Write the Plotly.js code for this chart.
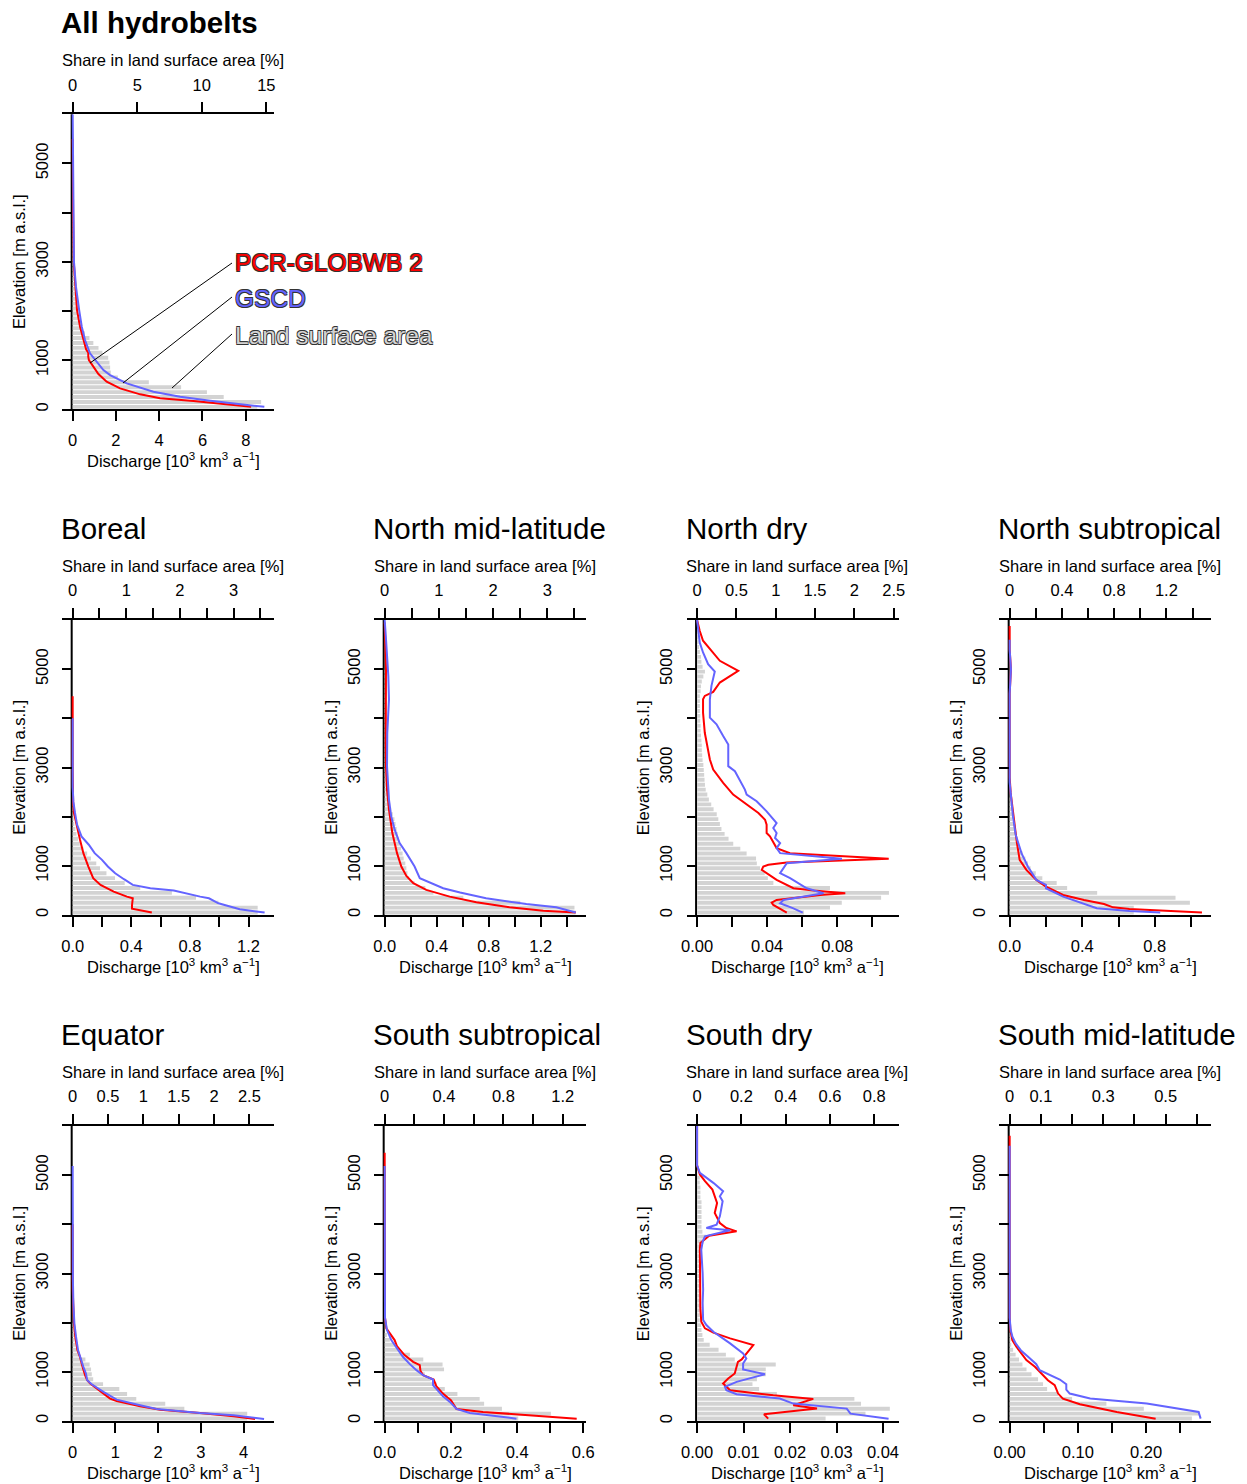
<!DOCTYPE html>
<html><head><meta charset="utf-8">
<script src="https://cdn.plot.ly/plotly-3.0.1.min.js"></script>
<style>html,body{margin:0;padding:0;background:#fff}#chart{width:1247px;height:1484px}</style>
</head><body><div id="chart"></div>
<script>
// ================= DATA =================
const panelTitles = ['All hydrobelts','Boreal','North mid-latitude','North dry','North subtropical','Equator','South subtropical','South dry','South mid-latitude'];
const seriesNames = ['PCR-GLOBWB 2','GSCD','Land surface area'];

// elevation band centres [m a.s.l.] (100 m bands)
const bandMid = [50,150,250,350,450,550,650,750,850,950,1050,1150,1250,1350,1450,1550,1650,1750,1850,1950,2050,2150,2250,2350,2450,2550,2650,2750,2850,2950,3050,3150,3250,3350,3450,3550,3650,3750,3850,3950,4050,4150,4250,4350,4450,4550,4650,4750,4850,4950,5050,5150,5250,5350,5450,5550,5650,5750,5850,5950];

// share in land surface area [%] per band
const allArea = [14.3,14.6,11.7,10.4,8.4,5.9,3.5,2.95,2.9,2.85,2.75,2.3,2.0,1.6,1.3,0.95,0.7,0.55,0.45,0.38,0.33,0.3,0.27,0.25,0.22,0.2,0.18,0.16,0.15,0.14,0.13,0.12,0.11,0.1,0.09,0.08,0.08,0.07,0.07,0.06,0.06,0.05,0.05,0.05,0.04,0.04,0.03,0.03,0.02,0.02];
const borealArea = [3.45,3.45,2.72,2.3,1.85,1.26,0.97,0.79,0.63,0.51,0.44,0.34,0.27,0.2,0.13,0.1,0.07,0.05,0.03,0.02,0.015,0.01,0.01,0.01,0.005];
const nmlArea = [3.52,3.5,2.5,1.45,0.9,0.75,0.55,0.45,0.42,0.4,0.38,0.35,0.33,0.3,0.28,0.26,0.24,0.22,0.2,0.18,0.15,0.12,0.1,0.08,0.07,0.06,0.05,0.05,0.04,0.04,0.04,0.03,0.03,0.03,0.03,0.02,0.02,0.02,0.02,0.02,0.02,0.02,0.02,0.02,0.02,0.01,0.01,0.01,0.01,0.01];
const ndArea = [1.36,1.69,1.84,2.34,2.44,1.69,0.97,0.9,0.86,0.8,0.76,0.75,0.63,0.55,0.46,0.4,0.35,0.31,0.29,0.27,0.25,0.21,0.18,0.15,0.13,0.11,0.1,0.095,0.09,0.085,0.08,0.07,0.065,0.06,0.06,0.055,0.05,0.045,0.045,0.04,0.04,0.035,0.035,0.035,0.035,0.045,0.05,0.06,0.08,0.1,0.07,0.055,0.05,0.035,0.025,0.02,0.015,0.01,0.01,0.005];
const nstArea = [0.95,0.95,1.38,1.27,0.67,0.44,0.36,0.25,0.2,0.16,0.14,0.12,0.1,0.08,0.07,0.06,0.05,0.04,0.03,0.02,0.02,0.015,0.01,0.01];
const eqArea = [2.47,2.47,1.58,1.31,0.9,0.77,0.66,0.43,0.29,0.27,0.26,0.24,0.18,0.1,0.06,0.04,0.03,0.02,0.015,0.01];
const sstArea = [0.9,1.12,0.79,0.67,0.64,0.49,0.405,0.35,0.31,0.27,0.4,0.39,0.26,0.17,0.1,0.07,0.035,0.015];
const sdArea = [0.58,0.76,0.87,0.74,0.71,0.36,0.28,0.25,0.27,0.31,0.31,0.355,0.17,0.13,0.097,0.057,0.03,0.024,0.02,0.018,0.012,0.012,0.012,0.012,0.012,0.012,0.012,0.012,0.012,0.012,0.012,0.012,0.012,0.012,0.012,0.02,0.03,0.04,0.024,0.02,0.02,0.02,0.02,0.02,0.02,0.015,0.015,0.015,0.012,0.012];
const smlArea = [0.584,0.61,0.43,0.31,0.2,0.155,0.12,0.107,0.091,0.07,0.054,0.041,0.03,0.019,0.011,0.005,0.003,0.002];

// discharge [10^3 km^3 a^-1] vs elevation
const allPcrElev = [50,122,169,223,304,426,562,717,866,968,1000,1070,1150,1220,1408,1680,2018,2500,3000,4000,5000,5500];
const allPcrQ    = [8.25,6.67,5.58,4.04,3.12,2.19,1.57,1.19,0.95,0.80,0.75,0.72,0.72,0.62,0.52,0.34,0.2,0.11,0.05,0.02,0.01,0];
const allGscdElev = [50,101,175,256,358,528,697,799,968,1138,1408,1680,2018,2500,3000,4000,5000,6000];
const allGscdQ    = [8.86,7.75,6.36,4.97,3.73,2.5,1.73,1.42,1.11,0.8,0.57,0.42,0.3,0.15,0.06,0.03,0.02,0];

const borealPcrElev = [50,130,200,340,374,476,612,748,986,1258,1530,1803,2075,2300,2600,3000,4450];
const borealPcrQ    = [0.54,0.405,0.405,0.41,0.37,0.28,0.19,0.14,0.107,0.073,0.05,0.027,0.009,0.003,0.001,0,0];
const borealGscdElev = [50,116,238,340,374,497,544,612,728,850,986,1122,1258,1429,1599,1837,2075,2300,2600,4000];
const borealGscdQ    = [1.31,1.14,0.995,0.93,0.87,0.69,0.53,0.41,0.35,0.29,0.24,0.2,0.15,0.11,0.06,0.03,0.016,0.005,0,0];

const nmlPcrElev = [50,88,156,258,374,510,646,796,986,1258,1667,2143,2551,3027,3500,4388,5000,5500,5950];
const nmlPcrQ    = [1.47,1.22,0.96,0.705,0.5,0.32,0.22,0.167,0.128,0.095,0.059,0.033,0.018,0.01,0.008,0.01,0.01,0.005,0];
const nmlGscdElev = [50,156,224,340,456,544,748,884,986,1258,1463,1735,2007,2347,2700,3027,3700,4000,4388,4864,5408,5700,6000];
const nmlGscdQ    = [1.47,1.32,1.09,0.78,0.58,0.45,0.27,0.244,0.23,0.167,0.115,0.077,0.05,0.033,0.023,0.018,0.02,0.026,0.033,0.028,0.018,0.008,0];

const ndPcrElev = [50,204,252,306,408,442,497,544,714,850,918,986,1020,1068,1143,1258,1361,1599,1667,1837,1939,2075,2245,2449,2687,2959,3163,3435,3707,4116,4388,4456,4537,4728,4966,5170,5408,5578,5782,6000];
const ndPcrQ    = [0.0512,0.0435,0.0426,0.0454,0.0703,0.0846,0.0665,0.055,0.0454,0.0397,0.0369,0.0378,0.0407,0.0512,0.1094,0.053,0.0454,0.0416,0.0397,0.0397,0.0388,0.035,0.0283,0.0206,0.0149,0.0092,0.0073,0.0057,0.0044,0.0034,0.0034,0.0044,0.0092,0.013,0.0235,0.013,0.0073,0.0034,0.0015,0];
const ndGscdElev = [50,136,238,306,442,544,748,850,1054,1143,1258,1361,1463,1565,1667,1769,1871,2109,2313,2449,2550,2789,2925,3027,3469,3639,3776,3878,4014,4388,4660,4952,5102,5340,5544,6000];
const ndGscdQ    = [0.0603,0.055,0.0474,0.0493,0.0722,0.0626,0.0531,0.0474,0.0512,0.0827,0.0474,0.0454,0.0474,0.0445,0.0454,0.0435,0.0454,0.0397,0.034,0.0283,0.0273,0.0235,0.0216,0.0178,0.0178,0.0149,0.013,0.0111,0.0073,0.0073,0.0082,0.0101,0.0063,0.0034,0.0015,0];

const nstPcrElev = [50,88,122,156,224,306,408,578,714,918,1122,1463,1803,2143,2483,2800,4500,5000,5400,5880];
const nstPcrQ    = [1.06,0.85,0.66,0.57,0.52,0.41,0.295,0.2,0.147,0.092,0.055,0.04,0.028,0.015,0.0055,0,0,0.007,0,0];
const nstGscdElev = [50,82,136,238,374,544,612,714,986,1258,1633,2007,2347,2700,4500,5000,5400,5600];
const nstGscdQ    = [0.83,0.66,0.48,0.405,0.295,0.2,0.2,0.147,0.1,0.065,0.033,0.018,0.009,0,0,0.007,0,0];

const eqPcrElev = [40,95,163,231,299,408,456,558,762,830,932,1102,1306,1442,1714,1986,2300,2700,4000];
const eqPcrQ    = [4.27,3.77,2.98,2.05,1.58,1.03,0.875,0.72,0.41,0.34,0.29,0.23,0.17,0.11,0.06,0.03,0.016,0,0];
const eqGscdElev = [40,116,163,245,320,435,592,748,830,966,1102,1306,1442,1714,1986,2395,2900,5184];
const eqGscdQ    = [4.48,3.77,2.98,1.97,1.58,1.03,0.72,0.445,0.34,0.31,0.25,0.17,0.125,0.078,0.04,0.016,0.005,0];

const sstPcrElev = [48,95,136,184,245,422,476,558,707,844,932,1020,1136,1204,1340,1524,1646,1782,1884,2100,5456];
const sstPcrQ    = [0.58,0.48,0.378,0.297,0.217,0.2,0.19,0.176,0.156,0.148,0.116,0.108,0.106,0.086,0.06,0.037,0.03,0.015,0.005,0.001,0];
const sstGscdElev = [48,109,163,245,388,503,728,844,932,1034,1156,1306,1510,1646,1850,2100,5184];
const sstGscdQ    = [0.398,0.318,0.257,0.217,0.197,0.176,0.146,0.146,0.116,0.096,0.076,0.055,0.033,0.02,0.007,0.001,0];

const sdPcrElev = [48,136,252,320,449,524,626,762,864,966,1102,1204,1252,1374,1544,1680,1796,1884,2020,2300,2939,3500,3619,3721,3769,3857,3925,4027,4231,4435,4571,4707,4878,5014,5200,6000];
const sdPcrQ    = [0.0153,0.0144,0.0258,0.0207,0.025,0.0164,0.0071,0.0056,0.0067,0.0081,0.0085,0.0088,0.0096,0.0106,0.0121,0.0071,0.0035,0.0017,0.0009,0.0007,0.0006,0.0006,0.0007,0.0019,0.0026,0.0085,0.0063,0.0049,0.0038,0.0043,0.0038,0.0033,0.0017,0.0006,0,0];
const sdGscdElev = [48,150,252,354,456,544,626,694,796,952,1048,1170,1272,1374,1578,1816,1952,2054,2400,2667,3000,3483,3650,3755,3878,3925,3993,4163,4367,4469,4571,4673,4844,5048,5200,6000];
const sdGscdQ    = [0.0412,0.033,0.0322,0.0207,0.0178,0.0085,0.0063,0.006,0.0085,0.0146,0.0099,0.0099,0.0106,0.0099,0.0071,0.0035,0.002,0.0013,0.0012,0.0013,0.0012,0.0009,0.0012,0.0017,0.0071,0.002,0.0042,0.0049,0.0053,0.0055,0.0049,0.0056,0.0035,0.0006,0,0];

const smlPcrElev = [48,184,340,456,558,728,830,1000,1102,1238,1408,1510,1646,1850,2100,5800];
const smlPcrQ    = [0.214,0.157,0.103,0.078,0.071,0.066,0.056,0.044,0.037,0.0245,0.0147,0.0098,0.0039,0.001,0,0];
const smlGscdElev = [48,184,354,456,558,639,748,844,1034,1156,1306,1429,1578,1714,1850,2100,5600];
const smlGscdQ    = [0.28,0.277,0.201,0.118,0.088,0.083,0.083,0.0735,0.044,0.039,0.027,0.017,0.0088,0.004,0.0015,0,0];

// tick values and labels (labelled ticks + unlabelled ticks)
const elevTicks  = [0,1000,3000,5000];
const elevLabels = ['0','1000','3000','5000'];
const elevMinor  = [2000,4000,6000];
const qTickVals = [[0,2,4,6,8],[0,0.4,0.8,1.2],[0,0.4,0.8,1.2],[0,0.04,0.08],[0,0.4,0.8],[0,1,2,3,4],[0,0.2,0.4,0.6],[0,0.01,0.02,0.03,0.04],[0,0.10,0.20]];
const qTickText = [['0','2','4','6','8'],['0.0','0.4','0.8','1.2'],['0.0','0.4','0.8','1.2'],['0.00','0.04','0.08'],['0.0','0.4','0.8'],['0','1','2','3','4'],['0.0','0.2','0.4','0.6'],['0.00','0.01','0.02','0.03','0.04'],['0.00','0.10','0.20']];
const qMinorVals = [[],[0.2,0.6,1.0],[0.2,0.6,1.0,1.4],[0.02,0.06,0.10],[0.2,0.6,1.0],[],[0.1,0.3,0.5],[],[0.05,0.15,0.25]];
const aTickVals = [[0,5,10,15],[0,1,2,3],[0,1,2,3],[0,0.5,1,1.5,2,2.5],[0,0.4,0.8,1.2],[0,0.5,1,1.5,2,2.5],[0,0.4,0.8,1.2],[0,0.2,0.4,0.6,0.8],[0,0.1,0.3,0.5]];
const aTickText = [['0','5','10','15'],['0','1','2','3'],['0','1','2','3'],['0','0.5','1','1.5','2','2.5'],['0','0.4','0.8','1.2'],['0','0.5','1','1.5','2','2.5'],['0','0.4','0.8','1.2'],['0','0.2','0.4','0.6','0.8'],['0','0.1','0.3','0.5']];
const aMinorVals = [[],[0.5,1.5,2.5,3.5],[0.5,1.5,2.5,3.5],[],[0.2,0.6,1.0,1.4],[],[0.2,0.6,1.0],[],[0.2,0.4,0.6]];

// ================= LAYOUT / STYLE =================
const W = 1247, H = 1484;
const FONT = 'Liberation Sans, Arial, Helvetica, sans-serif';
const RED = '#FF0000', BLUE = '#6464FF', GREY = '#D3D3D3';
const colLeft = [62.3, 374.3, 686.7, 999.3];
const rowTop = [114.3, 620, 1126];
const PW = 212, PH = 295;
const ZOFF = 0.0515; // left padding of x range relative to max
const panelPos = [[0,0],[0,1],[1,1],[2,1],[3,1],[0,2],[1,2],[2,2],[3,2]];
const qMax = [9.32,1.376,1.551,0.1151,1.1115,4.72,0.609,0.04338,0.2956];
const aMax = [15.62,3.76,3.718,2.564,1.544,2.853,1.3585,0.910,0.6463];

const areaData = [allArea,borealArea,nmlArea,ndArea,nstArea,eqArea,sstArea,sdArea,smlArea];
const pcrData = [[allPcrElev,allPcrQ],[borealPcrElev,borealPcrQ],[nmlPcrElev,nmlPcrQ],[ndPcrElev,ndPcrQ],[nstPcrElev,nstPcrQ],[eqPcrElev,eqPcrQ],[sstPcrElev,sstPcrQ],[sdPcrElev,sdPcrQ],[smlPcrElev,smlPcrQ]];
const gscdData = [[allGscdElev,allGscdQ],[borealGscdElev,borealGscdQ],[nmlGscdElev,nmlGscdQ],[ndGscdElev,ndGscdQ],[nstGscdElev,nstGscdQ],[eqGscdElev,eqGscdQ],[sstGscdElev,sstGscdQ],[sdGscdElev,sdGscdQ],[smlGscdElev,smlGscdQ]];

const TICKFONT = {family: FONT, size: 16.5, color: '#000'};
const traces = [];
const layout = {
  width: W, height: H,
  margin: {l:0, r:0, t:0, b:0},
  paper_bgcolor: '#fff', plot_bgcolor: 'rgba(0,0,0,0)',
  showlegend: false, bargap: 0.2,
  font: {family: FONT, color: '#000'},
  annotations: [], shapes: []
};

function axKey(prefix, n) { return n === 1 ? prefix + 'axis' : prefix + 'axis' + n; }
function axRef(prefix, n) { return n === 1 ? prefix : prefix + n; }
function minorSpec(vals, dir) {
  return vals.length ? {tickmode: 'array', tickvals: vals, ticks: dir, ticklen: 10, tickwidth: 2, tickcolor: '#000', showgrid: false}
                     : {ticks: '', showgrid: false};
}

panelPos.forEach(([c, r], i) => {
  const left = colLeft[c], top = rowTop[r];
  const nA = 2*i + 1, nQ = 2*i + 2, nY = i + 1;
  const aRef = axRef('x', nA), qRef = axRef('x', nQ), yRef = axRef('y', nY);
  const common = {
    showline: true, linecolor: '#000', linewidth: 2,
    ticks: 'outside', ticklen: 10, tickwidth: 2, tickcolor: '#000',
    showgrid: false, zeroline: false, automargin: false, fixedrange: true,
    tickfont: TICKFONT, tickmode: 'array'
  };
  // share axis (top) – base axis holding the bars
  layout[axKey('x', nA)] = Object.assign({}, common, {
    domain: [left / W, (left + PW) / W], anchor: yRef, side: 'top',
    range: [-ZOFF * aMax[i], aMax[i]],
    tickvals: aTickVals[i], ticktext: aTickText[i], ticklabelstandoff: 5,
    minor: minorSpec(aMinorVals[i], 'outside')
  });
  // discharge axis (bottom) – overlay holding the lines
  layout[axKey('x', nQ)] = Object.assign({}, common, {
    overlaying: aRef, anchor: yRef, side: 'bottom',
    range: [-ZOFF * qMax[i], qMax[i]],
    tickvals: qTickVals[i], ticktext: qTickText[i], ticklabelstandoff: 5,
    minor: minorSpec(qMinorVals[i], 'outside')
  });
  layout[axKey('y', nY)] = {
    domain: [1 - (top + PH) / H, 1 - top / H], anchor: aRef,
    range: [0, 6000], tickmode: 'array', tickvals: elevTicks, ticktext: elevLabels,
    ticks: 'inside', ticklen: 10, tickwidth: 2, tickcolor: '#000',
    minor: minorSpec(elevMinor, 'inside'),
    showline: false, zeroline: false, showgrid: false, automargin: false, fixedrange: true,
    tickangle: -90, tickfont: TICKFONT, ticklabelstandoff: 10
  };
  // vertical axis line at discharge = 0 (below the curves)
  layout.shapes.push({
    type: 'line', layer: 'below', xref: qRef, xsizemode: 'pixel', xanchor: 0, x0: -1, x1: -1,
    yref: yRef + ' domain', y0: 0, y1: 1, line: {color: '#000', width: 2}
  });

  traces.push({
    type: 'bar', orientation: 'h', name: seriesNames[2],
    x: areaData[i], y: bandMid.slice(0, areaData[i].length),
    xaxis: aRef, yaxis: yRef, marker: {color: GREY, line: {width: 0}}, hoverinfo: 'skip'
  });
  traces.push({
    type: 'scatter', mode: 'lines', name: seriesNames[0],
    x: pcrData[i][1], y: pcrData[i][0], xaxis: qRef, yaxis: yRef,
    line: {color: RED, width: 2}, hoverinfo: 'skip'
  });
  traces.push({
    type: 'scatter', mode: 'lines', name: seriesNames[1],
    x: gscdData[i][1], y: gscdData[i][0], xaxis: qRef, yaxis: yRef,
    line: {color: BLUE, width: 2}, hoverinfo: 'skip'
  });

  // panel title
  layout.annotations.push({
    xref: 'paper', yref: 'paper', x: (left - 3) / W, y: 1 - (top - 92) / H,
    xanchor: 'left', yanchor: 'middle', showarrow: false,
    text: i === 0 ? '<b>' + panelTitles[i] + '</b>' : panelTitles[i],
    font: {family: FONT, size: 29.5, color: '#000'}
  });
  // top axis title
  layout.annotations.push({
    xref: 'paper', yref: 'paper', x: (left + 110.7) / W, y: 1 - (top - 54.5) / H,
    xanchor: 'center', yanchor: 'middle', showarrow: false,
    text: 'Share in land surface area [%]', font: {family: FONT, size: 16.5, color: '#000'}
  });
  // bottom axis title
  layout.annotations.push({
    xref: 'paper', yref: 'paper', x: (left + 110.7) / W, y: 1 - (top + PH + 51) / H,
    xanchor: 'center', yanchor: 'middle', showarrow: false,
    text: 'Discharge [10<sup>3</sup> km<sup>3</sup> a<sup>\u22121</sup>]', font: {family: FONT, size: 16.5, color: '#000'}
  });
  // y axis title
  layout.annotations.push({
    xref: 'paper', yref: 'paper', x: (left - 44) / W, y: 1 - (top + PH / 2) / H,
    xanchor: 'center', yanchor: 'middle', showarrow: false, textangle: -90,
    text: 'Elevation [m a.s.l.]', font: {family: FONT, size: 16.5, color: '#000'}
  });
});

// legend labels with leader lines (All hydrobelts panel)
const OUTLINE = '-0.7px -0.7px 0 #333, 0.7px -0.7px 0 #333, -0.7px 0.7px 0 #333, 0.7px 0.7px 0 #333';
const legendColors = [RED, BLUE, GREY];
const legendTextY = [262, 298, 336];
const leaderEnd = [[90, 363], [123, 383], [172, 388]];
const leaderStart = [[232, 263], [232, 297], [232, 334]];
seriesNames.forEach((nm, k) => {
  layout.annotations.push({
    xref: 'paper', yref: 'paper', x: 233 / W, y: 1 - legendTextY[k] / H,
    xanchor: 'left', yanchor: 'middle', showarrow: false, text: nm,
    font: {family: FONT, size: 24.5, color: legendColors[k], shadow: OUTLINE}
  });
  layout.shapes.push({
    type: 'line', layer: 'above', xref: 'paper', yref: 'paper',
    x0: leaderStart[k][0] / W, y0: 1 - leaderStart[k][1] / H,
    x1: leaderEnd[k][0] / W, y1: 1 - leaderEnd[k][1] / H,
    line: {color: '#000', width: 1}
  });
});

Plotly.newPlot('chart', traces, layout, {staticPlot: true, displayModeBar: false});
</script>
</body></html>
